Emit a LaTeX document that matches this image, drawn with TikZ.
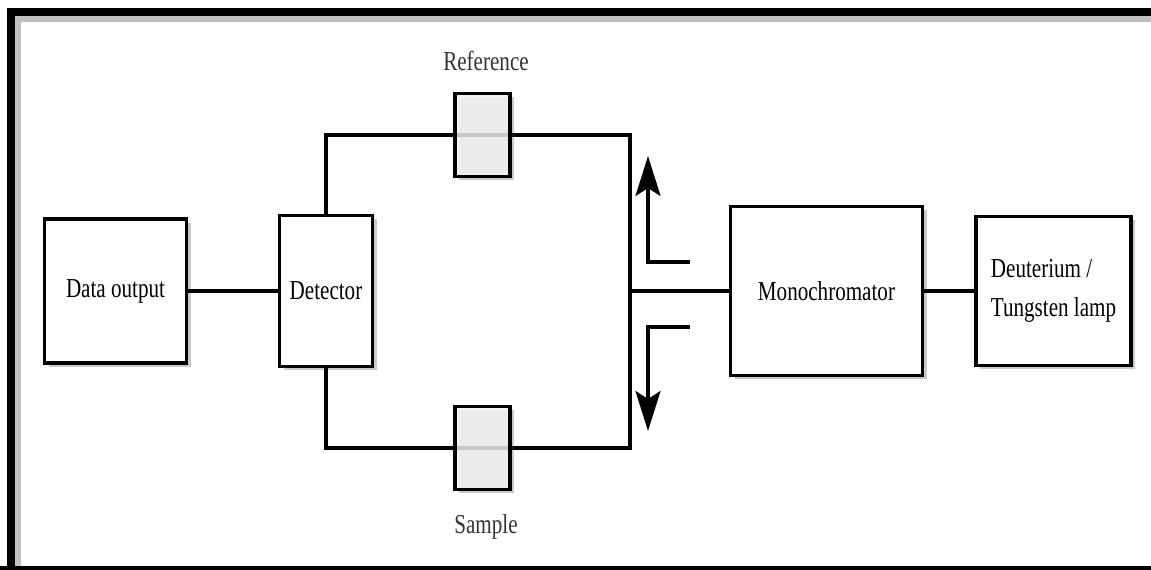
\documentclass[tikz,border=0pt]{standalone}
\usepackage{fontspec}
\setmainfont{Liberation Serif}
\usetikzlibrary{arrows.meta,shadows}
\newcommand{\tallt}[1]{\scalebox{1}[1.3]{#1}}
\tikzset{
  unitbox/.style={draw,line width=2.1pt,fill=white,inner sep=0pt,outer sep=0pt,
    font=\fontsize{12}{14}\selectfont,
    drop shadow={shadow xshift=0.08cm,shadow yshift=-0.08cm,opacity=0.3,fill=black!70}},
  cell/.style={draw,line width=2.1pt,fill=black!4,fill opacity=0.8,text opacity=1,
    minimum width=1.1cm,minimum height=1.66cm,inner sep=0pt,outer sep=0pt,
    drop shadow={shadow xshift=0.08cm,shadow yshift=-0.08cm,opacity=0.3,fill=black!70}},
  wire/.style={line width=1.9pt},
  beam/.style={line width=1.9pt,-{Stealth[length=8mm,width=5mm,inset=1.6mm]}},
  lbl/.style={anchor=base,inner sep=0pt,text=black!80,font=\fontsize{12}{14}\selectfont}
}
\begin{document}
\begin{tikzpicture}[line cap=butt,line join=miter]
  \useasboundingbox (0,0) rectangle (23.02,11.4);
  \draw[black!25,line width=0.12cm] (0.36,-0.5) -- (0.36,11.01) -- (23.5,11.01);
  \draw[line width=0.16cm] (0.22,-0.5) -- (0.22,11.15) -- (23.5,11.15);
  \draw[line width=0.16cm] (0,0) -- (23.5,0);
  \coordinate (rtop) at (12.6,8.7);
  \coordinate (sbot) at (12.6,2.44);
  \coordinate (junc) at (12.6,5.58);
  \coordinate (upfrom) at (13.8,6.16);
  \coordinate (upbend) at (12.96,6.16);
  \coordinate (uptip) at (12.96,8.28);
  \coordinate (dnfrom) at (13.8,4.86);
  \coordinate (dnbend) at (12.96,4.86);
  \coordinate (dntip) at (12.96,2.78);
  \node[unitbox,minimum width=2.84cm,minimum height=2.88cm] (dataout) at (2.31,5.58) {\tallt{Data output}};
  \node[unitbox,minimum width=1.86cm,minimum height=3.02cm] (detector) at (6.52,5.58) {\tallt{Detector}};
  \node[unitbox,minimum width=3.84cm,minimum height=3.38cm] (mono) at (16.53,5.58) {\tallt{Monochromator}};
  \node[unitbox,minimum width=3.1cm,minimum height=2.98cm,align=left] (lamp) at (21.07,5.58)
    {\tallt{Deuterium /}\\[8pt]\tallt{Tungsten lamp}};
  \draw[wire] (dataout) -- (detector);
  \draw[wire] (detector.north) |- (rtop) -- (sbot) -| (detector.south);
  \node[cell] (refcell) at (9.65,8.7) {};
  \node[cell] (samcell) at (9.65,2.44) {};
  \draw[wire] (junc) -- (mono.west);
  \draw[wire] (mono) -- (lamp);
  \draw[beam] (upfrom) -- (upbend) -- (uptip);
  \draw[beam] (dnfrom) -- (dnbend) -- (dntip);
  \node[lbl] (reflbl) at (9.72,9.98) {\tallt{Reference}};
  \node[lbl] (samlbl) at (9.72,0.72) {\tallt{Sample}};
\end{tikzpicture}
\end{document}
